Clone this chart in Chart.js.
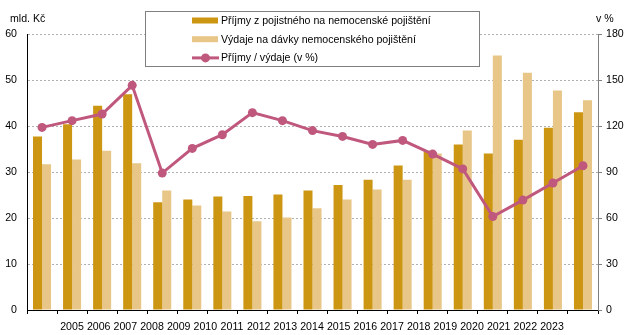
<!DOCTYPE html>
<html>
<head>
<meta charset="utf-8">
<script src="https://cdn.jsdelivr.net/npm/chart.js@4.4.1/dist/chart.umd.min.js"></script>
<style>
  html, body { margin: 0; padding: 0; background: #fff; }
  #obal { width: 631px; height: 335px; position: relative; }
</style>
</head>
<body>
<div id="obal"><canvas id="graf"></canvas></div>
<script>
// Data - roky a hodnoty
const roky = ['2005', '2006', '2007', '2008', '2009', '2010', '2011', '2012', '2013', '2014',
              '2015', '2016', '2017', '2018', '2019', '2020', '2021', '2022', '2023'];
const prijmy = [37.7, 40.4, 44.4, 46.9, 23.4, 24.0, 24.7, 24.8, 25.1, 26.0,
                27.2, 28.3, 31.4, 34.6, 36.0, 34.0, 37.0, 39.6, 43.0];
const vydaje = [31.7, 32.7, 34.6, 31.9, 26.0, 22.7, 21.4, 19.3, 20.1, 22.1,
                24.0, 26.2, 28.3, 34.0, 39.0, 55.3, 51.6, 47.7, 45.6];
const pomer = [119.1, 123.5, 127.8, 146.5, 89.3, 105.4, 114.3, 128.7, 123.5, 117.0,
               113.2, 108.0, 110.6, 101.7, 92.0, 61.0, 71.7, 82.8, 94.1];
// popisky osy x (v originále jsou vysázené hustěji než sloupce)
const popiskyX = [2005, 2006, 2007, 2008, 2009, 2010, 2011, 2012, 2013, 2014,
                  2015, 2016, 2017, 2018, 2019, 2020, 2021, 2022, 2023];
const tickyLevo = [0, 10, 20, 30, 40, 50, 60];
const tickyPravo = [0, 30, 60, 90, 120, 150, 180];

const barvaPrijmy = '#CC9613';
const barvaVydaje = '#E7C687';
const barvaPomer = '#C0587E';
const pismo = { family: '"Liberation Sans", Arial, sans-serif', size: 10.6 };

// Legenda v rámečku a jednotky os
const legendaPlugin = {
  id: 'legenda',
  afterDraw(chart) {
    const ctx = chart.ctx;
    const ds = chart.data.datasets;
    ctx.save();
    ctx.fillStyle = '#fff';
    ctx.fillRect(145.5, 11.5, 334, 55);
    ctx.strokeStyle = '#808080';
    ctx.lineWidth = 1;
    ctx.strokeRect(145.5, 11.5, 334, 55);

    ctx.font = pismo.size + 'px ' + pismo.family;
    ctx.textBaseline = 'middle';
    ctx.fillStyle = '#000';

    const poradi = [1, 2, 0]; // příjmy, výdaje, poměr
    poradi.forEach((i, r) => {
      const y = 20.5 + r * 18.7;
      const d = ds[i];
      if (d.type === 'line') {
        ctx.strokeStyle = d.borderColor;
        ctx.lineWidth = 3;
        ctx.beginPath();
        ctx.moveTo(192, y);
        ctx.lineTo(219, y);
        ctx.stroke();
        ctx.fillStyle = d.borderColor;
        ctx.beginPath();
        ctx.arc(205.5, y, 4.5, 0, Math.PI * 2);
        ctx.fill();
      } else {
        ctx.fillStyle = d.backgroundColor;
        ctx.fillRect(192, y - 3, 26, 6);
      }
      ctx.fillStyle = '#000';
      ctx.textAlign = 'left';
      ctx.fillText(d.label, 221, y + 0.5);
    });

    ctx.textAlign = 'left';
    ctx.fillText('mld. Kč', 10, 19);
    ctx.fillText('v %', 596, 19);
    ctx.restore();
  }
};

const ctx = document.getElementById('graf').getContext('2d');
new Chart(ctx, {
  type: 'bar',
  data: {
    labels: roky,
    datasets: [
      {
        type: 'line',
        label: 'Příjmy / výdaje (v %)',
        data: pomer,
        yAxisID: 'y1',
        xAxisID: 'x',
        borderColor: barvaPomer,
        backgroundColor: barvaPomer,
        borderWidth: 3,
        pointRadius: 4.5,
        pointHoverRadius: 4.5,
        pointBackgroundColor: barvaPomer,
        pointBorderWidth: 0,
        tension: 0,
        order: 0
      },
      {
        label: 'Příjmy z pojistného na nemocenské pojištění',
        data: prijmy,
        yAxisID: 'y',
        xAxisID: 'x',
        backgroundColor: barvaPrijmy,
        categoryPercentage: 0.6,
        barPercentage: 1.0,
        order: 1
      },
      {
        label: 'Výdaje na dávky nemocenského pojištění',
        data: vydaje,
        yAxisID: 'y',
        xAxisID: 'x',
        backgroundColor: barvaVydaje,
        categoryPercentage: 0.6,
        barPercentage: 1.0,
        order: 1
      }
    ]
  },
  options: {
    responsive: true,
    maintainAspectRatio: false,
    animation: false,
    layout: { padding: { left: 0, right: 0, top: 34, bottom: 0 } },
    plugins: {
      legend: { display: false },
      tooltip: { enabled: false }
    },
    scales: {
      x: {
        position: 'bottom',
        grid: { display: true, drawOnChartArea: false, drawTicks: true, tickLength: 4, color: '#000', offset: true },
        border: { display: true, color: '#000', width: 1 },
        ticks: { display: false },
        afterFit(scale) { scale.height = 4; }
      },
      xl: {
        type: 'linear',
        position: 'bottom',
        bounds: 'data',
        offset: false,
        min: 2003.3125,
        max: 2024.725,
        grid: { display: false, drawTicks: false, offset: false },
        border: { display: false },
        afterBuildTicks(scale) {
          scale.ticks = popiskyX.map(v => ({ value: v }));
          scale.min = 2003.3125;
          scale.max = 2024.725;
        },
        ticks: {
          autoSkip: false,
          maxRotation: 0,
          padding: 7,
          color: '#000',
          font: pismo,
          callback: v => String(v)
        },
        afterFit(scale) { scale.height = 21; }
      },
      y: {
        position: 'left',
        min: 0,
        max: 60,
        afterBuildTicks(scale) { scale.ticks = tickyLevo.map(v => ({ value: v })); },
        grid: { color: '#B0B0B0', drawTicks: false, lineWidth: 1 },
        border: { display: true, color: '#000', width: 1, dash: [2, 2] },
        ticks: { color: '#000', font: pismo, padding: 10 },
        afterFit(scale) { scale.width = 27; }
      },
      y1: {
        position: 'right',
        min: 0,
        max: 180,
        afterBuildTicks(scale) { scale.ticks = tickyPravo.map(v => ({ value: v })); },
        grid: { drawOnChartArea: false, drawTicks: true, tickLength: 4, color: '#808080' },
        border: { display: true, color: '#808080', width: 1 },
        ticks: { color: '#000', font: pismo, padding: 4 },
        afterFit(scale) { scale.width = 33; }
      }
    }
  },
  plugins: [legendaPlugin]
});
</script>
</body>
</html>
